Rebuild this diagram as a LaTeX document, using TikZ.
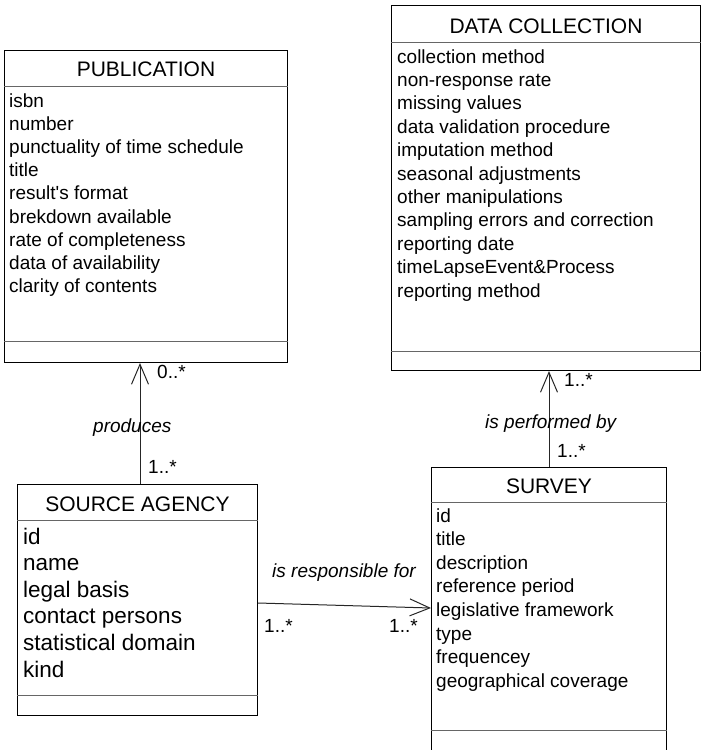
\documentclass[tikz,border=0pt]{standalone}
\usepackage{fontspec}
\setmainfont{Liberation Sans}[Ligatures=TeXOff]
\usetikzlibrary{arrows.meta,calc}
\definecolor{rulegray}{gray}{0.4}
\begin{document}
\begin{tikzpicture}[x=1pt,y=-1pt,
  classbox/.style={draw=black,line width=1pt,inner sep=0pt,anchor=north west,fill=white},
  sepline/.style={draw=rulegray,line width=1pt},
  title/.style={inner sep=0pt,anchor=base,font=\fontsize{21}{25}\selectfont},
  attr/.style={inner sep=0pt,anchor=base west,font=\fontsize{19}{23}\selectfont},
  bigattr/.style={inner sep=0pt,anchor=base west,font=\fontsize{22.5}{27}\selectfont},
  role/.style={inner sep=0pt,anchor=base west,font=\fontsize{19}{23}\selectfont\itshape},
  mult/.style={inner sep=0pt,anchor=base west,font=\fontsize{19}{23}\selectfont},
  assoc/.style={draw=black!85,line width=1pt},
  nav/.style={assoc,-{Straight Barb[length=20pt,width=17pt]}}
]
\useasboundingbox (0,0) rectangle (707,750);

% ---------- PUBLICATION ----------
\node[classbox,minimum width=283pt,minimum height=312pt] (pub) at (4,50) {};
\draw[sepline] ($(pub.north west)+(0,36)$) -- ($(pub.north east)+(0,36)$);
\draw[sepline] ($(pub.south west)+(0,-22)$) -- ($(pub.south east)+(0,-22)$);
\node[title] (pubtitle) at ($(pub.north)+(0,26)$) {PUBLICATION};
\foreach \t [count=\i from 0] in {isbn,number,punctuality of time schedule,title,result's format,brekdown available,rate of completeness,data of availability,clarity of contents}
  \node[attr] (pub-a\i) at ($(pub.north west)+(5,57+23.2*\i)$) {\t};

% ---------- DATA COLLECTION ----------
\node[classbox,minimum width=309pt,minimum height=365pt] (dc) at (391,5) {};
\draw[sepline] ($(dc.north west)+(0,37)$) -- ($(dc.north east)+(0,37)$);
\draw[sepline] ($(dc.south west)+(0,-20)$) -- ($(dc.south east)+(0,-20)$);
\node[title] (dctitle) at ($(dc.north)+(0,28)$) {DATA COLLECTION};
\foreach \t [count=\i from 0] in {collection method,non-response rate,missing values,data validation procedure,imputation method,seasonal adjustments,other manipulations,sampling errors and correction,reporting date,timeLapseEvent\&Process,reporting method}
  \node[attr] (dc-a\i) at ($(dc.north west)+(6,58+23.4*\i)$) {\t};

% ---------- SOURCE AGENCY ----------
\node[classbox,minimum width=240pt,minimum height=231pt] (sa) at (17,484) {};
\draw[sepline] ($(sa.north west)+(0,36)$) -- ($(sa.north east)+(0,36)$);
\draw[sepline] ($(sa.south west)+(0,-21)$) -- ($(sa.south east)+(0,-21)$);
\node[title] (satitle) at ($(sa.north)+(0,27)$) {SOURCE AGENCY};
\foreach \t [count=\i from 0] in {id,name,legal basis,contact persons,statistical domain,kind}
  \node[bigattr] (sa-a\i) at ($(sa.north west)+(6,60+26.6*\i)$) {\t};

% ---------- SURVEY ----------
\node[classbox,minimum width=235pt,minimum height=300pt] (sv) at (431,467) {};
\draw[sepline] ($(sv.north west)+(0,35)$) -- ($(sv.north east)+(0,35)$);
\draw[sepline] ($(sv.north west)+(0,263)$) -- ($(sv.north east)+(0,263)$);
\node[title] (svtitle) at ($(sv.north)+(0,26)$) {SURVEY};
\foreach \t [count=\i from 0] in {id,title,description,reference period,legislative framework,type,frequencey,geographical coverage}
  \node[attr] (sv-a\i) at ($(sv.north west)+(5,55+23.6*\i)$) {\t};

% ---------- associations ----------
% produces
\coordinate (prodx) at (140,0);
\draw[nav] (sa.north -| prodx) -- (pub.south -| prodx);
\node[role] (prodlabel) at (93,432) {produces};
\node[mult] (prodsrc) at (148,473) {1..*};
\node[mult] (proddst) at (157,378) {0..*};

% is performed by
\draw[nav] (sv.north) -- (sv.north |- dc.south);
\node[role] (perflabel) at (485,428) {is performed by};
\node[mult] (perfsrc) at (557,457) {1..*};
\node[mult] (perfdst) at (564,386) {1..*};

% is responsible for
\draw[nav] ($(sa.north east)+(0,119)$) -- ($(sv.north west)+(0,141)$);
\node[role] (resplabel) at (272,577) {is responsible for};
\node[mult] (respsrc) at (264,632) {1..*};
\node[mult] (respdst) at (389,632) {1..*};
\end{tikzpicture}
\end{document}
